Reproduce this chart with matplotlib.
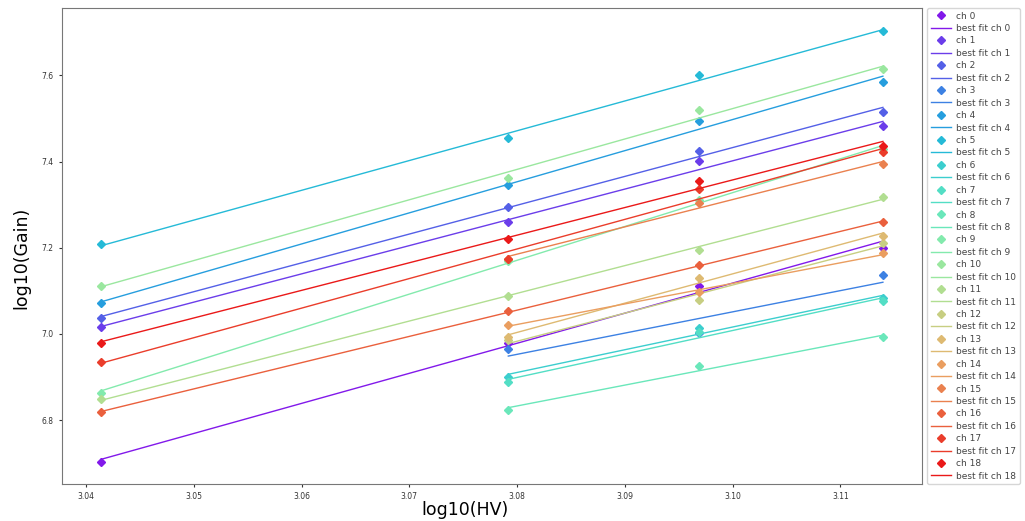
import numpy as np
import matplotlib
matplotlib.use("Agg")
import matplotlib.pyplot as plt
from matplotlib import cm
from matplotlib.colors import to_rgb

hv = [1100, 1200, 1250, 1300]

# log10(Gain) per channel; None = no measurement at that HV
gain = {
    0:  [6.702, 6.980, 7.112, 7.200],
    1:  [7.016, 7.259, 7.401, 7.482],
    2:  [7.037, 7.295, 7.424, 7.516],
    3:  [None, 6.965, 7.003, 7.137],
    4:  [7.071, 7.346, 7.494, 7.585],
    5:  [7.208, 7.454, 7.600, 7.704],
    6:  [None, 6.900, 7.013, 7.083],
    7:  [None, 6.888, 7.005, 7.077],
    8:  [None, 6.824, 6.925, 6.992],
    9:  [6.864, 7.170, 7.310, 7.430],
    10: [7.112, 7.363, 7.519, 7.615],
    11: [6.848, 7.089, 7.195, 7.319],
    12: [None, 6.985, 7.079, 7.212],
    13: [None, 6.992, 7.131, 7.228],
    14: [None, 7.021, 7.097, 7.187],
    15: [None, 7.175, 7.303, 7.395],
    16: [6.818, 7.054, 7.160, 7.259],
    17: [6.935, 7.175, 7.336, 7.422],
    18: [6.980, 7.220, 7.355, 7.436],
}
channels = list(gain.keys())


def muted(c, k=0.18):
    r, g, b = to_rgb(c)
    m = 0.55
    return (r * (1 - k) + m * k, g * (1 - k) + m * k, b * (1 - k) + m * k)


fig = plt.figure(figsize=(10.25, 5.21), dpi=100)
ax = fig.add_axes([0.0605, 0.071, 0.839, 0.9136])

n = len(channels)
for ch in channels:
    c = muted(cm.rainbow(ch / (n - 1)))
    xs = np.array([np.log10(h) for h, g in zip(hv, gain[ch]) if g is not None])
    ys = np.array([g for g in gain[ch] if g is not None])
    ax.plot(xs, ys, 'D', color=c, markersize=4, label=f'ch {ch}')
    p = np.polyfit(xs, ys, 1)
    ax.plot(xs, np.polyval(p, xs), '-', color=c, linewidth=1.0, label=f'best fit ch {ch}')

ax.set_xlabel('log10(HV)', fontsize=12.5, labelpad=1)
ax.set_ylabel('log10(Gain)', fontsize=12.5)
ax.xaxis.set_label_coords(0.469, -0.035, transform=ax.transAxes)
ax.yaxis.set_label_coords(-0.037, 0.475, transform=ax.transAxes)
ax.xaxis.label.set_va('top')
ax.tick_params(labelsize=5.5, length=2.5, colors='#333333')
ax.set_yticks([6.8, 7.0, 7.2, 7.4, 7.6])
for s in ax.spines.values():
    s.set_color('#777777')

leg = ax.legend(loc='upper left', bbox_to_anchor=(1.006, 1.0), borderaxespad=0,
                fontsize=6.5, labelspacing=0.38, handlelength=2.2, handletextpad=0.6,
                borderpad=0.4, frameon=True)
for t in leg.get_texts():
    t.set_color('#444444')

fig.savefig('out.png', dpi=100)
